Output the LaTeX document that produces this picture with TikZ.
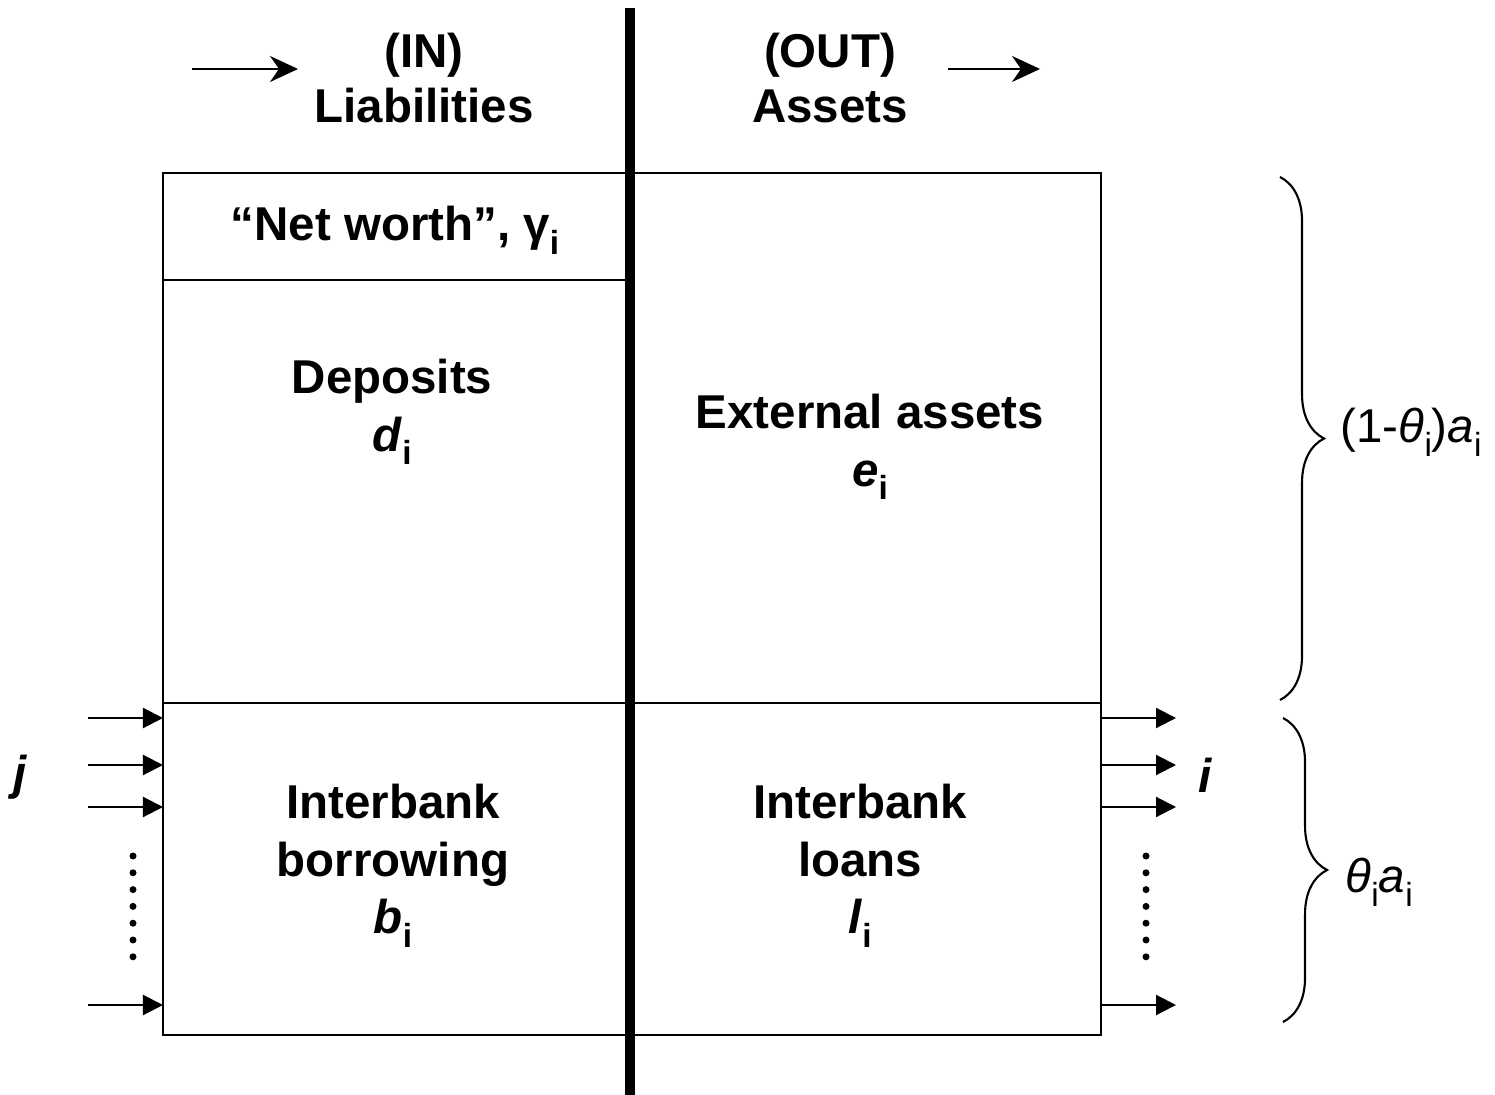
\documentclass[tikz,border=0pt]{standalone}
\usepackage{fontspec}
\setmainfont{Liberation Sans}
\usetikzlibrary{arrows.meta,decorations.pathreplacing,positioning}

\newcommand\lowsub[1]{\raisebox{-0.55ex}{\fontsize{9.5}{10}\selectfont #1}}

\tikzset{
  hdr/.style={font=\fontsize{13.5}{15.4}\selectfont\bfseries, align=center, inner sep=0pt},
  lbl/.style={font=\fontsize{13.5}{16.4}\selectfont\bfseries, align=center, inner sep=0pt},
  side/.style={font=\fontsize{13.5}{16}\selectfont, anchor=west, inner sep=0pt},
  flow/.style={-{Triangle[length=0.2cm,width=0.2cm]}, line width=0.6pt},
  head/.style={-{Stealth[length=0.28cm,width=0.26cm,inset=0.09cm]}, line width=0.6pt},
  brc/.style={decorate, decoration={brace, amplitude=0.44cm}, line width=0.6pt},
  wall/.style={line width=0.1cm}
}

\begin{document}
\begin{tikzpicture}[x=0.01cm, y=-0.01cm]
\useasboundingbox (0,0) rectangle (1495,1095);

\coordinate (tl) at (163,173);
\coordinate (br) at (1101,1035);
\coordinate (ml) at (163,703);
\coordinate (mr) at (1101,703);
\coordinate (nwl) at (163,280);
\coordinate (nwr) at (630,280);
\coordinate (wtop) at (630,8);
\coordinate (wbot) at (630,1095);

\draw[line width=0.6pt] (tl) rectangle (br);
\draw[line width=0.6pt] (ml) -- (mr);
\draw[line width=0.6pt] (nwl) -- (nwr);
\draw[wall] (wtop) -- (wbot);

\node[hdr] (liab) at (424,78) {(IN)\\Liabilities};
\node[hdr] (asset) at (830,78) {(OUT)\\Assets};
\coordinate (ina) at (192,69);
\coordinate (inb) at (298,69);
\coordinate (outa) at (948,69);
\coordinate (outb) at (1040,69);
\draw[head] (ina) -- (inb);
\draw[head] (outa) -- (outb);

\node[lbl] (nw) at (395,230) {“Net worth”, γ\lowsub{i}};
\node[lbl] (dep) at (392,412) {Deposits\\\textit{d}\lowsub{i}};
\node[lbl] (ext) at (870,447) {External assets\\\textit{e}\lowsub{i}};
\node[lbl] (borr) at (393,866) {Interbank\\borrowing\\\textit{b}\lowsub{i}};
\node[lbl] (loan) at (860,866) {Interbank\\loans\\\textit{l}\lowsub{i}};

\foreach \y [count=\n] in {718,765,807,1005} {
  \coordinate (src\n) at (88,\y);
  \coordinate (dst\n) at (163,\y);
  \coordinate (lsrc\n) at (1101,\y);
  \coordinate (ldst\n) at (1176,\y);
  \draw[flow] (src\n) -- (dst\n);
  \draw[flow] (lsrc\n) -- (ldst\n);
}
\foreach \k in {0,...,6} {
  \fill (133,856+16.8*\k) circle[radius=0.035cm];
  \fill (1146,856+16.8*\k) circle[radius=0.035cm];
}
\node[lbl] (jbank) at (20,777) {\itshape j};
\node[lbl] (ibank) at (1205,775) {\itshape i};

\coordinate (ba) at (1280,177);
\coordinate (bb) at (1280,700);
\coordinate (bc) at (1283,718);
\coordinate (bd) at (1283,1022);
\draw[brc] (ba) -- (bb);
\draw[brc] (bc) -- (bd);
\node[side] (ext share) at (1340,432) {(1-\textit{θ}\lowsub{i})\textit{a}\lowsub{i}};
\node[side] (ib share) at (1345,882) {\textit{θ}\lowsub{i}\textit{a}\lowsub{i}};
\end{tikzpicture}
\end{document}
